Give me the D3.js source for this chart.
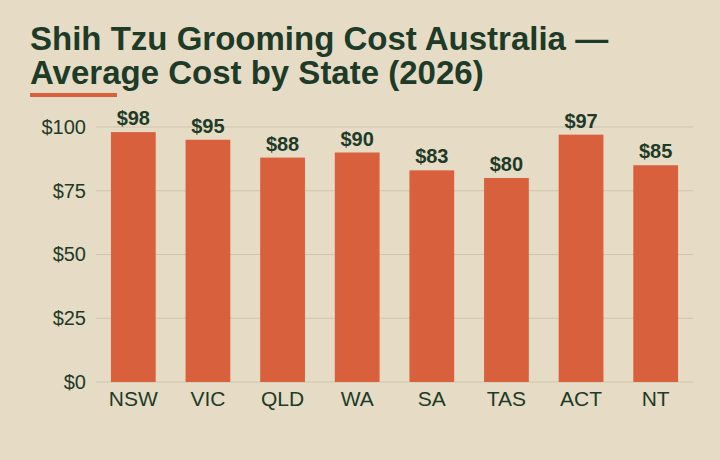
<!DOCTYPE html>
<html><head><meta charset="utf-8">
<script src="https://cdn.jsdelivr.net/npm/d3@7"></script>
<style>body{margin:0;background:#e6dcc5;}svg{display:block;}</style>
</head><body><svg id="c" width="720" height="460"></svg>
<script>
const states = ["NSW","VIC","QLD","WA","SA","TAS","ACT","NT"];
const costs = [98,95,88,90,83,80,97,85];
const yTicks = [0,25,50,75,100];
const titleLines = ["Shih Tzu Grooming Cost Australia —","Average Cost by State (2026)"];

const svg = d3.select("#c");
const dark = "#1e3a28", red = "#d9603c";
svg.append("rect").attr("width",720).attr("height",460).attr("fill","#e6dcc5");
svg.selectAll("text.t").data(titleLines).join("text")
  .attr("x",30).attr("y",(d,i)=>50+i*34)
  .attr("font-family","Liberation Sans, Arial, sans-serif").attr("font-weight","bold")
  .attr("font-size",33).attr("fill",dark).text(d=>d);
svg.append("rect").attr("x",30).attr("y",93).attr("width",87).attr("height",4).attr("fill",red);

const x = d3.scaleBand().domain(states).range([96,693]).paddingInner(0.4).paddingOuter(0.2);
const y = d3.scaleLinear().domain([0,100]).range([382,127]);

svg.append("g").selectAll("line").data(yTicks).join("line")
  .attr("x1",96).attr("x2",693).attr("y1",d=>y(d)).attr("y2",d=>y(d))
  .attr("stroke","#cfc4ab").attr("stroke-width",1);

const ya = svg.append("g").attr("transform","translate(96,0)")
  .call(d3.axisLeft(y).tickValues(yTicks).tickFormat(d=>"$"+d).tickSize(0).tickPadding(10));
ya.select(".domain").remove();
ya.selectAll("text").attr("font-family","Liberation Sans, Arial, sans-serif").attr("font-size",20).attr("fill",dark);

const xa = svg.append("g").attr("transform","translate(0,382)")
  .call(d3.axisBottom(x).tickSize(0).tickPadding(9));
xa.select(".domain").remove();
xa.selectAll("text").attr("font-family","Liberation Sans, Arial, sans-serif").attr("font-size",21).attr("fill",dark);

svg.selectAll("rect.b").data(costs).join("rect").attr("class","b")
  .attr("x",(d,i)=>x(states[i])).attr("width",x.bandwidth())
  .attr("y",d=>y(d)).attr("height",d=>y(0)-y(d)).attr("fill",red);
svg.selectAll("text.v").data(costs).join("text").attr("class","v")
  .attr("x",(d,i)=>x(states[i])+x.bandwidth()/2).attr("y",d=>y(d)-7)
  .attr("text-anchor","middle").attr("font-family","Liberation Sans, Arial, sans-serif")
  .attr("font-weight","bold").attr("font-size",20).attr("fill",dark).text(d=>"$"+d);
</script></body></html>
